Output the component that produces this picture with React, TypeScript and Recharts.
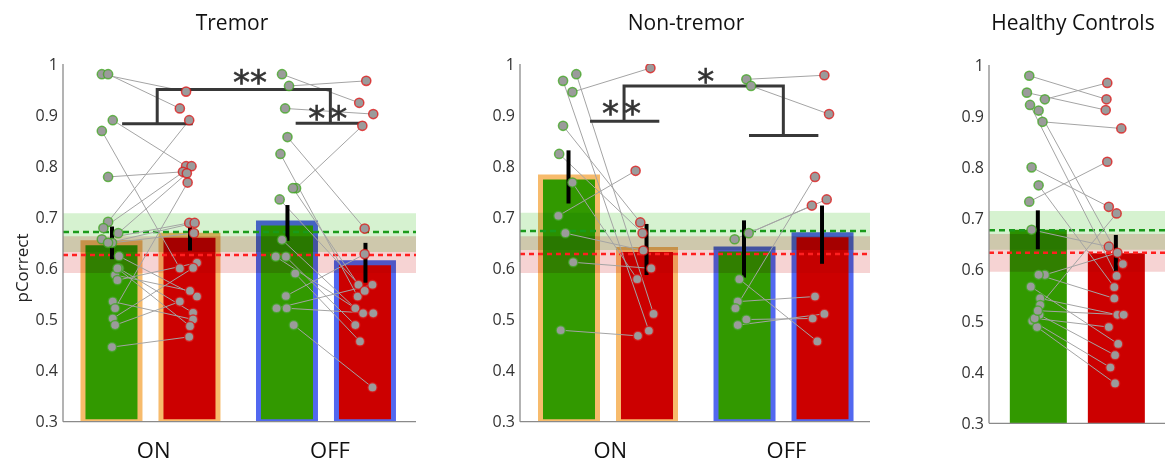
import React from 'react';
import {
  ComposedChart,
  Bar,
  Cell,
  Line,
  Scatter,
  ErrorBar,
  XAxis,
  YAxis,
  ReferenceArea,
  ReferenceLine,
} from 'recharts';

const FONT = '"Open Sans", "DejaVu Sans", sans-serif';

const yTicks = [0.3, 0.4, 0.5, 0.6, 0.7, 0.8, 0.9, 1];
const groupTicks = [1.535, 3.795];
const groupLabels = ['ON', 'OFF'];

// bar positions: 1 = ON green, 2 = ON red, 3.25 = OFF green, 4.25 = OFF red
const patientBarX = [1, 2, 3.25, 4.25];
const tremorMean = [0.65, 0.665, 0.689, 0.611];
const tremorSem = [0.032, 0.03, 0.035, 0.039];
const nonTremorMean = [0.779, 0.637, 0.638, 0.666];
const nonTremorSem = [0.052, 0.05, 0.056, 0.057];
const healthyBarX = [1, 2];
const healthyMean = [0.678, 0.632];
const healthySem = [0.038, 0.036];

// reference bands: [low, mean, high]
const tremorGreenBand = [0.632, 0.671, 0.708];
const tremorRedBand = [0.591, 0.626, 0.663];
const nonTremorGreenBand = [0.636, 0.673, 0.709];
const nonTremorRedBand = [0.591, 0.628, 0.663];
const healthyGreenBand = [0.639, 0.677, 0.715];
const healthyRedBand = [0.596, 0.633, 0.67];

// single subjects: [green x, green y, red x, red y]
const tremorOn = [
  [0.87, 0.98, 1.95, 0.946],
  [0.95, 0.98, 1.87, 0.913],
  [1.01, 0.89, 1.95, 0.8],
  [0.87, 0.869, 1.87, 0.6],
  [0.95, 0.779, 1.91, 0.789],
  [0.95, 0.691, 1.99, 0.89],
  [0.89, 0.679, 2.02, 0.8],
  [1.08, 0.669, 1.96, 0.786],
  [0.87, 0.657, 1.99, 0.689],
  [1.0, 0.65, 2.05, 0.669],
  [1.09, 0.624, 2.09, 0.545],
  [1.09, 0.6, 2.04, 0.513],
  [1.04, 0.587, 2.0, 0.556],
  [1.07, 0.577, 2.09, 0.611],
  [1.01, 0.535, 2.04, 0.5],
  [1.04, 0.522, 1.97, 0.768],
  [1.01, 0.502, 2.04, 0.601],
  [1.04, 0.489, 1.87, 0.535],
  [1.0, 0.446, 1.99, 0.466],
  [1.07, 0.6, 2.0, 0.487],
  [0.95, 0.65, 2.06, 0.689],
];
const tremorOff = [
  [3.18, 0.98, 4.17, 0.924],
  [3.27, 0.957, 4.26, 0.967],
  [3.22, 0.913, 4.35, 0.902],
  [3.25, 0.857, 4.24, 0.678],
  [3.16, 0.824, 4.15, 0.545],
  [3.36, 0.757, 4.21, 0.879],
  [3.32, 0.757, 4.16, 0.568],
  [3.15, 0.735, 4.24, 0.556],
  [3.18, 0.656, 4.12, 0.522],
  [3.1, 0.623, 4.22, 0.512],
  [3.23, 0.623, 4.12, 0.489],
  [3.35, 0.59, 4.18, 0.457],
  [3.23, 0.546, 4.24, 0.628],
  [3.11, 0.522, 4.34, 0.568],
  [3.24, 0.522, 4.35, 0.512],
  [3.33, 0.489, 4.34, 0.367],
];
const nonTremorOn = [
  [1.05, 0.945, 2.05, 0.992],
  [1.1, 0.98, 2.09, 0.511],
  [0.93, 0.967, 2.03, 0.478],
  [0.93, 0.879, 1.92, 0.69],
  [0.88, 0.824, 1.95, 0.669],
  [1.05, 0.768, 1.88, 0.579],
  [0.87, 0.703, 1.86, 0.791],
  [0.96, 0.669, 1.96, 0.635],
  [1.06, 0.612, 2.06, 0.6],
  [0.9, 0.479, 1.89, 0.468],
];
const nonTremorOff = [
  [3.28, 0.97, 4.28, 0.978],
  [3.34, 0.957, 4.34, 0.902],
  [3.31, 0.669, 4.12, 0.723],
  [3.13, 0.657, 4.31, 0.735],
  [3.19, 0.579, 4.19, 0.457],
  [3.17, 0.535, 4.16, 0.545],
  [3.14, 0.522, 4.16, 0.779],
  [3.28, 0.5, 4.13, 0.502],
  [3.17, 0.489, 4.28, 0.511],
];
const healthyPairs = [
  [0.89, 0.979, 1.88, 0.933],
  [0.86, 0.946, 1.87, 0.912],
  [1.09, 0.933, 1.89, 0.965],
  [0.9, 0.922, 2.01, 0.588],
  [1.01, 0.911, 2.09, 0.611],
  [1.06, 0.889, 2.07, 0.876],
  [0.92, 0.8, 1.91, 0.723],
  [1.01, 0.765, 1.98, 0.566],
  [0.89, 0.733, 1.89, 0.811],
  [0.92, 0.678, 1.91, 0.645],
  [1.09, 0.59, 2.02, 0.633],
  [1.01, 0.59, 1.98, 0.544],
  [0.91, 0.567, 2.03, 0.455],
  [1.03, 0.544, 2.02, 0.512],
  [1.03, 0.531, 2.01, 0.71],
  [1.02, 0.512, 1.99, 0.433],
  [0.93, 0.5, 1.93, 0.409],
  [0.99, 0.488, 1.99, 0.378],
  [0.96, 0.505, 1.91, 0.488],
  [1.0, 0.52, 2.1, 0.512],
];

// significance brackets (polylines) and their stars: [x, y, text, bracket passes between]
const tremorBracket = [
  [1.13, 0.883], [2.035, 0.883], [1.58, 0.883], [1.58, 0.95],
  [3.8, 0.95], [3.8, 0.884], [3.355, 0.884], [4.25, 0.884],
];
const tremorStars = [
  [2.77, 0.975, '**', false],
  [3.8, 0.904, '**', true],
];
const nonTremorBracket = [
  [1.276, 0.888], [2.164, 0.888], [1.712, 0.888], [1.712, 0.957],
  [3.754, 0.957], [3.754, 0.86], [3.314, 0.86], [4.203, 0.86],
];
const nonTremorStars = [
  [1.712, 0.914, '**', true],
  [2.76, 0.977, '*', false],
];

const GREEN = '#329900';
const RED = '#cc0000';
const ORANGE = '#f7bb6c';
const BLUE = '#5268f0';

const dotShape = (edge: string) => (props: any) => (
  <circle
    cx={props.cx}
    cy={props.cy}
    r={4.6}
    fill="#9b9b9b"
    stroke={edge}
    strokeOpacity={0.75}
    strokeWidth={1.5}
  />
);

const starShape = (props: any) => {
  const p = props.payload;
  return (
    <text
      x={props.cx}
      y={props.cy + 17}
      textAnchor="middle"
      fontFamily="DejaVu Sans"
      fontSize={34}
      fill="#333"
      stroke="#333"
      strokeWidth={0.6}
      letterSpacing={p.split ? 5 : 0}
    >
      {p.label}
    </text>
  );
};

const emptyShape = () => <g />;

function Panel({ left, width, margin, domain, barX, mean, sem, outlines, greenBand, redBand, pairs, bracket, stars, groupAxis }: any) {
  const bars = barX.map((x: number, i: number) => ({ x, y: mean[i], err: sem[i] }));
  const links = pairs.flatMap((p: number[]) => [
    { x: p[0], y: p[1] },
    { x: p[2], y: p[3] },
    { x: p[2], y: null },
  ]);
  const greens = pairs.map((p: number[]) => ({ x: p[0], y: p[1] }));
  const reds = pairs.map((p: number[]) => ({ x: p[2], y: p[3] }));
  const bracketPts = (bracket || []).map((p: number[]) => ({ x: p[0], y: p[1] }));
  const starPts = (stars || []).map((s: any[]) => ({ x: s[0], y: s[1], label: s[2], split: s[3] }));

  return (
    <div style={{ position: 'absolute', left, top: 0 }}>
      <ComposedChart width={width} height={465} data={bars} margin={margin}>
        <XAxis xAxisId="bars" type="number" dataKey="x" domain={domain} allowDataOverflow hide />
        <XAxis
          type="number"
          dataKey="x"
          domain={domain}
          allowDataOverflow
          ticks={groupAxis ? groupTicks : []}
          tickFormatter={(v: number) => groupLabels[groupTicks.indexOf(v)] ?? ''}
          tick={groupAxis ? { fontSize: 22, fill: '#111', fontFamily: FONT } : false}
          tickLine={false}
          tickSize={0}
          tickMargin={21}
          height={30}
          axisLine={{ stroke: '#8a8a8a', strokeWidth: 1.3 }}
        />
        <YAxis
          type="number"
          dataKey="y"
          domain={[0.3, 1]}
          allowDataOverflow
          ticks={yTicks}
          tickFormatter={(v: number) => (v === 1 ? '1' : v.toFixed(1))}
          width={40}
          tickLine={false}
          tickSize={3}
          tickMargin={2}
          axisLine={{ stroke: '#8a8a8a', strokeWidth: 1.3 }}
          tick={{ fontSize: 16, fill: '#333', fontFamily: FONT }}
        />
        <Bar xAxisId="bars" dataKey="y" barSize={57} isAnimationActive={false}>
          {bars.map((b: any, i: number) => (
            <Cell
              key={i}
              fill={i % 2 === 0 ? GREEN : RED}
              stroke={outlines ? outlines[i] : 'none'}
              strokeWidth={outlines ? 5 : 0}
            />
          ))}
        </Bar>
        <ReferenceArea
          className="band-multiply"
          y1={greenBand[0]}
          y2={greenBand[2]}
          fill="#d6f2d0"
          fillOpacity={1}
          stroke="none"
          zIndex={350}
        />
        <ReferenceArea
          className="band-multiply"
          y1={redBand[0]}
          y2={redBand[2]}
          fill="#f6d3d3"
          fillOpacity={1}
          stroke="none"
          zIndex={350}
        />
        <ReferenceLine y={greenBand[1]} stroke="#1a9a1a" strokeWidth={2.5} strokeDasharray="6 4" zIndex={360} />
        <ReferenceLine y={redBand[1]} stroke="#ff1f1f" strokeWidth={2.5} strokeDasharray="5 4" zIndex={360} />
        <Line
          data={links}
          dataKey="y"
          type="linear"
          stroke="#a4a4a4"
          strokeWidth={1}
          dot={false}
          activeDot={false}
          connectNulls={false}
          isAnimationActive={false}
        />
        {bracket && (
          <Line
            data={bracketPts}
            dataKey="y"
            type="linear"
            stroke="#383838"
            strokeWidth={3}
            dot={false}
            activeDot={false}
            isAnimationActive={false}
          />
        )}
        <Scatter data={greens} shape={dotShape('#3ea61e')} isAnimationActive={false} />
        <Scatter data={reds} shape={dotShape('#dd1111')} isAnimationActive={false} />
        <Scatter data={bars} shape={emptyShape} isAnimationActive={false}>
          <ErrorBar dataKey="err" direction="y" width={0} stroke="#000" strokeWidth={4} />
        </Scatter>
        {stars && <Scatter data={starPts} shape={starShape} isAnimationActive={false} />}
      </ComposedChart>
    </div>
  );
}

const titleStyle = (cx: number): React.CSSProperties => ({
  position: 'absolute',
  left: cx - 150,
  width: 300,
  top: 8,
  textAlign: 'center',
  fontSize: 21,
  lineHeight: '28px',
  color: '#111',
  fontFamily: FONT,
});

export default function App() {
  return (
    <div
      style={{
        position: 'absolute',
        left: 0,
        top: 0,
        width: 1165,
        height: 465,
        overflow: 'hidden',
        background: '#fff',
        fontFamily: FONT,
      }}
    >
      <style>{'.band-multiply, .band-multiply * { mix-blend-mode: multiply; }'}</style>
      <div style={titleStyle(232)}>Tremor</div>
      <div style={titleStyle(686)}>Non-tremor</div>
      <div style={titleStyle(1073)}>Healthy Controls</div>
      <div
        style={{
          position: 'absolute',
          left: 21,
          top: 268,
          transform: 'translate(-50%, -50%) rotate(-90deg)',
          fontSize: 17,
          color: '#222',
          whiteSpace: 'nowrap',
          fontFamily: FONT,
        }}
      >
        pCorrect
      </div>

      <Panel
        left={0}
        width={430}
        margin={{ top: 64, right: 14, bottom: 13.3, left: 23 }}
        domain={[0.372, 4.898]}
        barX={patientBarX}
        mean={tremorMean}
        sem={tremorSem}
        outlines={[ORANGE, ORANGE, BLUE, BLUE]}
        greenBand={tremorGreenBand}
        redBand={tremorRedBand}
        pairs={[...tremorOn, ...tremorOff]}
        bracket={tremorBracket}
        stars={tremorStars}
        groupAxis
      />
      <Panel
        left={457}
        width={430}
        margin={{ top: 64, right: 17, bottom: 13.3, left: 23 }}
        domain={[0.378, 4.865]}
        barX={patientBarX}
        mean={nonTremorMean}
        sem={nonTremorSem}
        outlines={[ORANGE, ORANGE, BLUE, BLUE]}
        greenBand={nonTremorGreenBand}
        redBand={nonTremorRedBand}
        pairs={[...nonTremorOn, ...nonTremorOff]}
        bracket={nonTremorBracket}
        stars={nonTremorStars}
        groupAxis
      />
      <Panel
        left={926}
        width={239}
        margin={{ top: 65, right: 0, bottom: 11.7, left: 23 }}
        domain={[0.374, 2.63]}
        barX={healthyBarX}
        mean={healthyMean}
        sem={healthySem}
        greenBand={healthyGreenBand}
        redBand={healthyRedBand}
        pairs={healthyPairs}
        groupAxis={false}
      />
    </div>
  );
}
